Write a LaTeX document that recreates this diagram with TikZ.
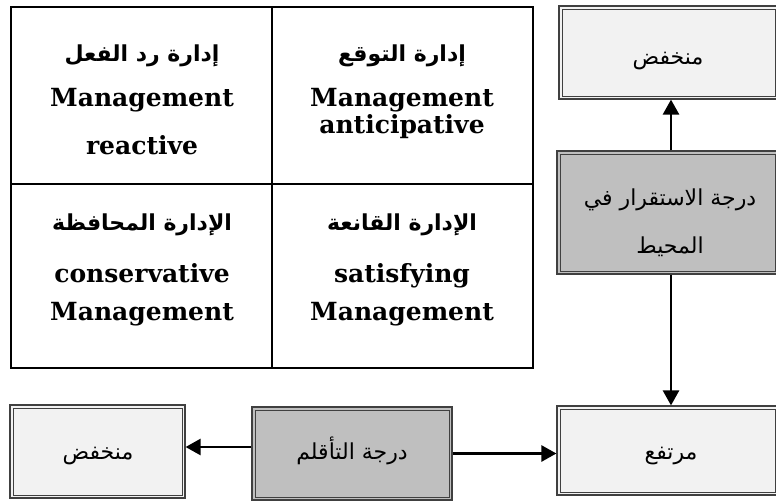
\documentclass[tikz,border=0pt]{standalone}
\usepackage{fontspec}
\setmainfont{DejaVu Serif}
\newfontfamily\arabicfont[Script=Arabic]{DejaVu Sans}
\TeXXeTstate=1
\usetikzlibrary{arrows.meta}
\definecolor{paleBox}{HTML}{F2F2F2}
\definecolor{midBox}{HTML}{BFBFBF}
\definecolor{rimColor}{HTML}{404040}

\tikzset{
  gridline/.style={line width=2.6pt},
  % box with a double (outer + inset) rim
  dbox/.style={draw=rimColor, line width=1.2pt, inner sep=0pt,
    path picture={\draw[rimColor, line width=0.9pt]
      ([shift={(3pt,3pt)}]path picture bounding box.south west) rectangle
      ([shift={(-3pt,-3pt)}]path picture bounding box.north east);}},
  palebox/.style={dbox, fill=paleBox},
  greybox/.style={dbox, fill=midBox},
  boxtext/.style={anchor=base, inner sep=0pt, font=\arabicfont\fontsize{22}{26}\selectfont},
  arr/.style={line width=2.6pt, -{Triangle[length=15pt,width=16pt]}},
  artitle/.style={anchor=base, font=\arabicfont\bfseries\fontsize{22}{26}\selectfont},
  entitle/.style={anchor=base, font=\bfseries\fontsize{25}{29}\selectfont},
}

\begin{document}
\begin{tikzpicture}[x=1pt, y=-1pt]
\useasboundingbox (0,0) rectangle (776,503);

% 2x2 management matrix
\draw[gridline] (11,7) rectangle (533,368);
\draw[gridline] (272,7) -- (272,368);
\draw[gridline] (11,184) -- (533,184);

\node[artitle] (rtA) at (142,62) {\beginR إدارة رد الفعل\endR};
\node[entitle] (rtB) at (142,106) {Management};
\node[entitle] (rtC) at (142,154) {reactive};

\node[artitle] (anA) at (402,62) {\beginR إدارة التوقع\endR};
\node[entitle] (anB) at (402,106) {Management};
\node[entitle] (anC) at (402,133) {anticipative};

\node[artitle] (cvA) at (142,230) {\beginR الإدارة المحافظة\endR};
\node[entitle] (cvB) at (142,282) {conservative};
\node[entitle] (cvC) at (142,320) {Management};

\node[artitle] (stA) at (402,230) {\beginR الإدارة القانعة\endR};
\node[entitle] (stB) at (402,282) {satisfying};
\node[entitle] (stC) at (402,320) {Management};

% environment stability axis
\node[palebox, minimum width=219pt, minimum height=93pt] (lowEnv) at (668.5,52.5) {};
\node[greybox, minimum width=221pt, minimum height=123pt] (stab) at (667.5,212.5) {};
\node[palebox, minimum width=221pt, minimum height=89pt] (high) at (667.5,450.5) {};
\node[boxtext] (lowEnvT) at (668,64) {\beginR منخفض\endR};
\node[boxtext] (stabT1) at (670,205) {\beginR درجة الاستقرار في\endR};
\node[boxtext] (stabT2) at (670,253) {\beginR المحيط\endR};
\node[boxtext] (highT) at (671,459) {\beginR مرتفع\endR};

% adaptation axis
\node[greybox, minimum width=200pt, minimum height=93pt] (adapt) at (352,453.5) {};
\node[palebox, minimum width=175pt, minimum height=93pt] (lowAd) at (97.5,451.5) {};
\node[boxtext] (adaptT) at (352,459) {\beginR درجة التأقلم\endR};
\node[boxtext] (lowAdT) at (98,459) {\beginR منخفض\endR};

\draw[arr] ([xshift=3.5pt]stab.north) -- ([xshift=3.5pt]stab.north |- lowEnv.south);
\draw[arr] ([xshift=3.5pt]stab.south) -- ([xshift=3.5pt]stab.south |- high.north);
\draw[arr] ([yshift=6.5pt]adapt.west) -- ([yshift=6.5pt]adapt.west -| lowAd.east);
\draw[arr] (adapt.east) -- (adapt.east -| high.west);
\end{tikzpicture}
\end{document}
